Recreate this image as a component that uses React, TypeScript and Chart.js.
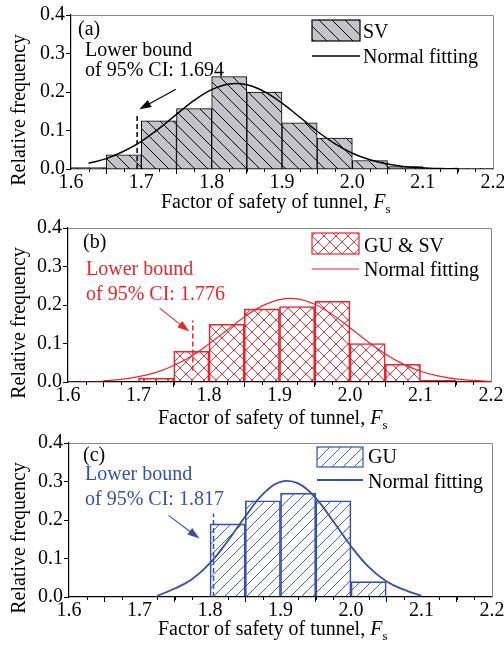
import React, { useEffect, useRef } from "react";
import { Chart, registerables } from "chart.js";
Chart.register(...registerables);

const FONT = "'Liberation Serif', 'Times New Roman', Times, serif";

// ---- data ----
const binCenters = [1.625, 1.675, 1.725, 1.775, 1.825, 1.875, 1.925, 1.975, 2.025, 2.075, 2.125, 2.175];
const freqSV = [0.004, 0.037, 0.125, 0.157, 0.24, 0.2, 0.12, 0.08, 0.022, 0.006, 0.002, 0.002];
const freqGUSV = [0.002, null, 0.01, 0.08, 0.15, 0.19, 0.196, 0.21, 0.1, 0.046, 0.005, 0.002];
const freqGU = [null, null, null, null, 0.19, 0.25, 0.27, 0.25, 0.04, null, null, null];

const fitXSV = [1.625, 1.65, 1.675, 1.7, 1.725, 1.75, 1.775, 1.8, 1.825, 1.85, 1.875, 1.9, 1.925, 1.95, 1.975, 2.0, 2.025, 2.05, 2.075, 2.1, 2.125, 2.15];
const fitYSV = [0.015, 0.027, 0.046, 0.072, 0.105, 0.142, 0.178, 0.206, 0.221, 0.219, 0.201, 0.171, 0.135, 0.098, 0.066, 0.041, 0.024, 0.013, 0.006, 0.003, 0.001, 0.001];

const fitXGUSV = [1.65, 1.675, 1.7, 1.725, 1.75, 1.775, 1.8, 1.825, 1.85, 1.875, 1.9, 1.925, 1.95, 1.975, 2.0, 2.025, 2.05, 2.075, 2.1, 2.125, 2.15, 2.175, 2.2];
const fitYGUSV = [0.003, 0.007, 0.014, 0.025, 0.043, 0.067, 0.099, 0.134, 0.169, 0.197, 0.214, 0.216, 0.202, 0.175, 0.141, 0.105, 0.073, 0.047, 0.028, 0.016, 0.008, 0.004, 0.002];

const fitXGU = [1.725, 1.75, 1.775, 1.8, 1.825, 1.85, 1.875, 1.9, 1.925, 1.95, 1.975, 2.0, 2.025, 2.05, 2.075, 2.1];
const fitYGU = [0.003, 0.022, 0.047, 0.088, 0.145, 0.209, 0.267, 0.299, 0.295, 0.257, 0.196, 0.132, 0.078, 0.041, 0.019, 0.003];

const seriesNames = ["SV", "GU & SV", "GU"];
const panelTags = ["(a)", "(b)", "(c)"];
const ciLabels = ["1.694", "1.776", "1.817"];
const ciLineX = [1.694, 1.777, 1.805];
const ciLineY = [[0, 0.14], [0.03, 0.16], [0, 0.217]];
const ciArrows = [
  [1.749, 0.207, 1.697, 0.155],
  [1.73, 0.192, 1.772, 0.131],
  [1.741, 0.212, 1.785, 0.152],
];
const xMin = 1.6, xMax = 2.2, xStep = 0.1, xMinorStep = 0.025;
const yMin = 0, yMax = 0.4, yStep = 0.1;
const xTitle = "Factor of safety of tunnel, ";
const yTitle = "Relative frequency";
const fitName = "Normal fitting";

const RED = "#e8262d";
const BLUE = "#3550a5";

type Panel = {
  top: number; height: number; padTop: number; padRight: number; yW: number; xH: number;
  color: string; textColor: string; curveW: number; barW: number;
  pat: { dirs: string[]; size: number; bg: string | null; lw: number };
  bars: (number | null)[]; fitX: number[]; fitY: number[]; idx: number;
  tag: [number, number]; lb1: [number, number]; lb2: [number, number];
  box: [number, number, number, number]; t1: [number, number]; lineY: number; t2: [number, number];
  xTitleX: number; xTitleY: number; yTitleY: number;
};

const panels: Panel[] = [
  {
    top: 0, height: 220, padTop: 15, padRight: 11, yW: 71, xH: 51,
    color: "#000", textColor: "#000", curveW: 1.5, barW: 1,
    pat: { dirs: ["back"], size: 13, bg: "#c4c4c8", lw: 1 },
    bars: freqSV, fitX: fitXSV, fitY: fitYSV, idx: 0,
    tag: [78, 35], lb1: [85, 56], lb2: [85, 76],
    box: [312, 20, 48, 21], t1: [363, 38], lineY: 56, t2: [363, 63],
    xTitleX: 161, xTitleY: 208, yTitleY: 110,
  },
  {
    top: 212, height: 225, padTop: 16, padRight: 13, yW: 68, xH: 55,
    color: RED, textColor: RED, curveW: 1.2, barW: 1,
    pat: { dirs: ["back", "fwd"], size: 12, bg: null, lw: 0.9 },
    bars: freqGUSV, fitX: fitXGUSV, fitY: fitYGUSV, idx: 1,
    tag: [83, 36], lb1: [86, 63], lb2: [86, 88],
    box: [312, 21, 47, 21], t1: [364, 40], lineY: 57, t2: [364, 64],
    xTitleX: 158, xTitleY: 212, yTitleY: 111,
  },
  {
    top: 425, height: 228, padTop: 18, padRight: 12, yW: 69, xH: 56,
    color: BLUE, textColor: BLUE, curveW: 1.8, barW: 1,
    pat: { dirs: ["fwd"], size: 11, bg: null, lw: 0.9 },
    bars: freqGU, fitX: fitXGU, fitY: fitYGU, idx: 2,
    tag: [83, 36], lb1: [85, 55], lb2: [85, 80],
    box: [317, 22, 46, 20], t1: [368, 38], lineY: 55, t2: [368, 63],
    xTitleX: 158, xTitleY: 210, yTitleY: 113,
  },
];

function makePattern(dirs: string[], size: number, bg: string | null, fg: string, lw: number): CanvasPattern {
  const c = document.createElement("canvas");
  c.width = size; c.height = size;
  const g = c.getContext("2d")!;
  if (bg) { g.fillStyle = bg; g.fillRect(0, 0, size, size); }
  g.strokeStyle = fg; g.lineWidth = lw;
  for (const d of dirs) {
    for (const k of [-size, 0, size]) {
      g.beginPath();
      if (d === "back") { g.moveTo(k, 0); g.lineTo(k + size, size); }
      else { g.moveTo(k, size); g.lineTo(k + size, 0); }
      g.stroke();
    }
  }
  return g.createPattern(c, "repeat")!;
}

function arrow(ctx: CanvasRenderingContext2D, x1: number, y1: number, x2: number, y2: number, color: string) {
  const ang = Math.atan2(y2 - y1, x2 - x1);
  const L = 12, W = 4;
  ctx.save();
  ctx.strokeStyle = color; ctx.fillStyle = color; ctx.lineWidth = 1.1;
  ctx.beginPath();
  ctx.moveTo(x1, y1);
  ctx.lineTo(x2 - Math.cos(ang) * L * 0.8, y2 - Math.sin(ang) * L * 0.8);
  ctx.stroke();
  ctx.beginPath();
  ctx.moveTo(x2, y2);
  ctx.lineTo(x2 - L * Math.cos(ang) + W * Math.sin(ang), y2 - L * Math.sin(ang) - W * Math.cos(ang));
  ctx.lineTo(x2 - L * Math.cos(ang) - W * Math.sin(ang), y2 - L * Math.sin(ang) + W * Math.cos(ang));
  ctx.closePath();
  ctx.fill();
  ctx.restore();
}

function makeDecor(p: Panel, pattern: CanvasPattern) {
  return {
    id: "decor" + p.idx,
    afterDatasetsDraw(chart: any) {
      const ctx: CanvasRenderingContext2D = chart.ctx;
      const xs = chart.scales.x, ys = chart.scales.y;
      ctx.save();
      ctx.strokeStyle = p.color; ctx.lineWidth = 1.5; ctx.setLineDash([5, 3]);
      const cx = xs.getPixelForValue(ciLineX[p.idx]);
      ctx.beginPath();
      ctx.moveTo(cx, ys.getPixelForValue(ciLineY[p.idx][0]));
      ctx.lineTo(cx, ys.getPixelForValue(ciLineY[p.idx][1]));
      ctx.stroke();
      ctx.restore();
      const a = ciArrows[p.idx];
      arrow(ctx, xs.getPixelForValue(a[0]), ys.getPixelForValue(a[1]), xs.getPixelForValue(a[2]), ys.getPixelForValue(a[3]), p.color);
    },
    afterDraw(chart: any) {
      const ctx: CanvasRenderingContext2D = chart.ctx;
      const area = chart.chartArea;
      const xs = chart.scales.x;
      ctx.save();
      ctx.strokeStyle = "#8a8a8a"; ctx.lineWidth = 1;
      ctx.beginPath();
      ctx.moveTo(area.left, area.top + 0.5); ctx.lineTo(area.right + 0.5, area.top + 0.5); ctx.lineTo(area.right + 0.5, area.bottom);
      ctx.stroke();
      ctx.strokeStyle = "#000";
      for (let v = xMin; v <= xMax + 1e-9; v += xMinorStep) {
        const r = Math.round(v * 1000) / 1000;
        if (Math.abs(r * 10 - Math.round(r * 10)) < 1e-6) continue;
        const px = Math.round(xs.getPixelForValue(r)) + 0.5;
        ctx.beginPath(); ctx.moveTo(px, area.bottom); ctx.lineTo(px, area.bottom + 3); ctx.stroke();
      }
      ctx.textBaseline = "alphabetic"; ctx.textAlign = "left";
      ctx.font = `20px ${FONT}`;
      ctx.fillStyle = "#000";
      ctx.fillText(panelTags[p.idx], p.tag[0], p.tag[1]);
      ctx.fillStyle = p.textColor;
      ctx.fillText("Lower bound", p.lb1[0], p.lb1[1]);
      ctx.fillText("of 95% CI: " + ciLabels[p.idx], p.lb2[0], p.lb2[1]);
      const [bx, by, bw, bh] = p.box;
      ctx.fillStyle = pattern;
      ctx.fillRect(bx, by, bw, bh);
      ctx.strokeStyle = p.color; ctx.lineWidth = 1.2;
      ctx.strokeRect(bx, by, bw, bh);
      ctx.beginPath(); ctx.lineWidth = p.curveW;
      ctx.moveTo(bx, p.lineY); ctx.lineTo(bx + bw, p.lineY); ctx.stroke();
      ctx.fillStyle = "#000";
      ctx.fillText(seriesNames[p.idx], p.t1[0], p.t1[1]);
      ctx.fillText(fitName, p.t2[0], p.t2[1]);
      let tx = p.xTitleX;
      ctx.fillText(xTitle, tx, p.xTitleY);
      tx += ctx.measureText(xTitle).width;
      ctx.font = `italic 20px ${FONT}`;
      ctx.fillText("F", tx, p.xTitleY);
      tx += ctx.measureText("F").width;
      ctx.font = `13px ${FONT}`;
      ctx.fillText("s", tx, p.xTitleY + 5);
      ctx.font = `20px ${FONT}`;
      ctx.translate(20, p.yTitleY);
      ctx.rotate(-Math.PI / 2);
      ctx.textAlign = "center"; ctx.textBaseline = "middle";
      ctx.fillText(yTitle, 0, 0);
      ctx.restore();
    },
  };
}

function PanelChart({ p }: { p: Panel }) {
  const ref = useRef<HTMLCanvasElement>(null);
  useEffect(() => {
    const canvas = ref.current!;
    const pattern = makePattern(p.pat.dirs, p.pat.size, p.pat.bg, p.color, p.pat.lw);
    const tickFont = { family: FONT, size: 20, lineHeight: 1 };
    const chart = new Chart(canvas, {
      type: "bar",
      data: {
        datasets: [
          {
            type: "line",
            data: p.fitX.map((x, i) => ({ x, y: p.fitY[i] })),
            borderColor: p.color, borderWidth: p.curveW, pointRadius: 0, fill: false,
            tension: 0.4, order: 0,
          } as any,
          {
            type: "bar",
            data: binCenters.map((x, i) => ({ x, y: p.bars[i] })),
            backgroundColor: pattern, borderColor: p.color, borderWidth: p.barW,
            barPercentage: 1, categoryPercentage: 1, order: 1,
          } as any,
        ],
      },
      options: {
        animation: false,
        responsive: false,
        events: [],
        layout: { padding: { top: p.padTop, right: p.padRight, left: 0, bottom: 0 } },
        plugins: { legend: { display: false }, tooltip: { enabled: false }, title: { display: false } },
        scales: {
          x: {
            type: "linear", min: xMin, max: xMax, offset: false,
            ticks: {
              stepSize: xStep, autoSkip: false, maxRotation: 0, color: "#000", font: tickFont, padding: -1,
              callback: (v: any) => Number(v).toFixed(1),
            },
            grid: { display: true, drawOnChartArea: false, drawTicks: true, tickLength: 5, color: "#000", lineWidth: 1 },
            border: { display: true, color: "#000", width: 1.2 },
            afterFit: (s: any) => { s.height = p.xH; s.paddingLeft = 0; s.paddingRight = 0; },
          },
          y: {
            type: "linear", min: yMin, max: yMax,
            ticks: {
              stepSize: yStep, color: "#000", font: tickFont, padding: 1,
              callback: (v: any) => Number(v).toFixed(1),
            },
            grid: { display: true, drawOnChartArea: false, drawTicks: true, tickLength: 5, color: "#000", lineWidth: 1 },
            border: { display: true, color: "#000", width: 1.2 },
            afterFit: (s: any) => { s.width = p.yW; s.paddingTop = 0; s.paddingBottom = 0; },
          },
        },
      } as any,
      plugins: [makeDecor(p, pattern)],
    });
    return () => chart.destroy();
  }, [p]);
  return (
    <canvas
      ref={ref}
      width={504}
      height={p.height}
      style={{ position: "absolute", left: 0, top: p.top, width: 504, height: p.height }}
    />
  );
}

export default function App() {
  return (
    <div style={{ position: "absolute", left: 0, top: 0, width: 504, height: 653, background: "#fff", overflow: "hidden" }}>
      {panels.map((p) => (
        <PanelChart key={p.idx} p={p} />
      ))}
    </div>
  );
}
